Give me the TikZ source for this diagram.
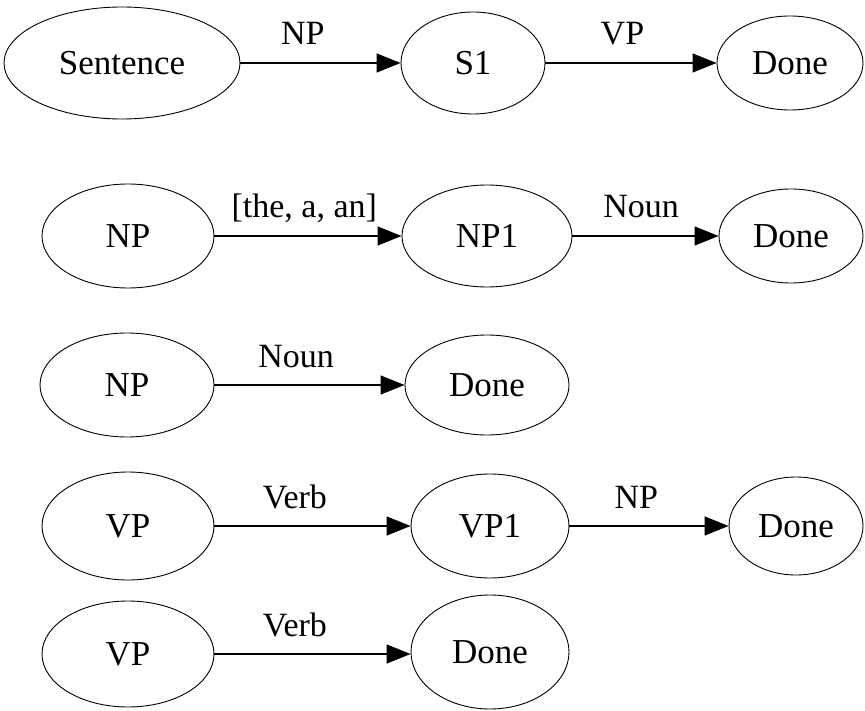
\documentclass[tikz,border=0pt]{standalone}
\usepackage{fontspec}
\setmainfont{Liberation Serif}
\usetikzlibrary{shapes.geometric,arrows.meta}

\tikzset{
  state/.style={ellipse, draw, line width=0.9pt, inner sep=0pt,
    font=\fontsize{35}{40}\selectfont},
  arc/.style={line width=1.4pt, -{Triangle[length=24pt,width=19pt]}},
  arclabel/.style={anchor=base, yshift=18pt, inner sep=0pt,
    font=\fontsize{34}{40}\selectfont}
}

\begin{document}
\begin{tikzpicture}[x=1pt, y=-1pt]
        \useasboundingbox (0,0) rectangle (865,711);

        % Vertices
        \node[state, minimum width=236, minimum height=112] (sent) at (122,63) {Sentence};
        \node[state, minimum width=144, minimum height=102] (s1) at (473,63) {S1};
        \node[state, minimum width=146, minimum height=94] (done1) at (790,63) {Done};

        \node[state, minimum width=172, minimum height=104] (np) at (128,236) {NP};
        \node[state, minimum width=170, minimum height=102] (np1) at (487,236) {NP1};
        \node[state, minimum width=144, minimum height=94] (done2) at (791,236) {Done};

        \node[state, minimum width=174, minimum height=104] (npb) at (127,385) {NP};
        \node[state, minimum width=164, minimum height=100] (done3) at (487,385) {Done};

        \node[state, minimum width=172, minimum height=108] (vp) at (128,526) {VP};
        \node[state, minimum width=158, minimum height=104] (vp1) at (490,526) {VP1};
        \node[state, minimum width=134, minimum height=98] (done4) at (796,526) {Done};

        \node[state, minimum width=172, minimum height=106] (vpb) at (128,654) {VP};
        \node[state, minimum width=158, minimum height=114] (done5) at (490,652) {Done};

        % Edges with labels
        \draw[arc] (sent) -- node[arclabel, pos=0.39] {NP} (s1);
        \draw[arc] (s1) -- node[arclabel, pos=0.45] {VP} (done1);

        \draw[arc] (np) -- node[arclabel, pos=0.48] {[the, a, an]} (np1);
        \draw[arc] (np1) -- node[arclabel, pos=0.47] {Noun} (done2);

        \draw[arc] (npb) -- node[arclabel, pos=0.43] {Noun} (done3);

        \draw[arc] (vp) -- node[arclabel, pos=0.41] {Verb} (vp1);
        \draw[arc] (vp1) -- node[arclabel, pos=0.42] {NP} (done4);

        \draw[arc] (vpb) -- node[arclabel, pos=0.41] {Verb} (vpb -| done5.west);
    \end{tikzpicture}
\end{document}
